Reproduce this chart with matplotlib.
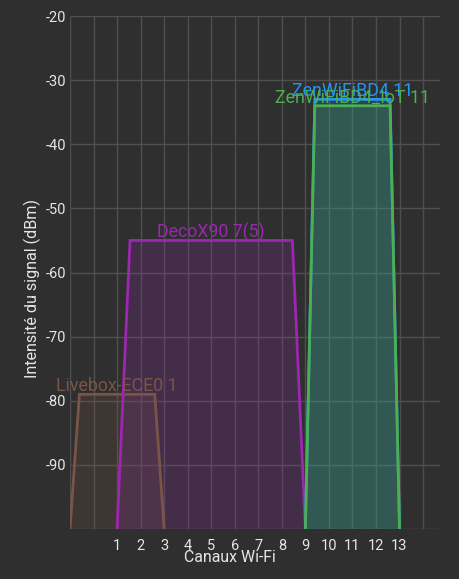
import numpy as np
import matplotlib
matplotlib.use('Agg')
import matplotlib.pyplot as plt

plt.rcParams['font.family'] = ['Roboto', 'DejaVu Sans']

# networks
names = ['Livebox-ECE0 1', 'DecoX90 7(5)', 'ZenWiFiBD4 11', 'ZenWiFiBD4_IoT 11']
centers = [1, 5, 11, 11]
half_widths = [2, 4, 2, 2]      # in channels (20 MHz -> 2, 40 MHz -> 4)
insets = [0.4, 0.55, 0.4, 0.4]   # slope of the trapezoid sides
levels = [-79, -55, -33, -34]
colors = ['#795548', '#9c27b0', '#2196f3', '#4caf50']
draw_order = [0, 1, 2, 3]

channel_ticks = list(range(1, 14))
grid_channels = list(range(-1, 15))
y_ticks = [-90, -80, -70, -60, -50, -40, -30, -20]

bg = '#2f2f2f'
fg = '#e6e6e6'
grid_col = '#4f4f4f'
floor = -100

fig = plt.figure(figsize=(4.6, 5.79), dpi=100, facecolor=bg)
ax = fig.add_axes([70 / 460, 50 / 579, 370 / 460, 513 / 579])
ax.set_facecolor(bg)

for i in draw_order:
    c = centers[i]
    hw = half_widths[i]
    xs = [c - hw, c - hw + insets[i], c + hw - insets[i], c + hw]
    ys = [floor, levels[i], levels[i], floor]
    ax.fill(xs, ys, color=colors[i], alpha=0.2, lw=0, zorder=2)
    ax.plot(xs, ys, color=colors[i], lw=2, zorder=3, solid_joinstyle='miter')
    ax.text(c, levels[i] + 0.45, names[i], color=colors[i], fontsize=12.8,
            ha='center', va='baseline', zorder=4)

ax.set_xlim(-1, 14.72)
ax.set_ylim(-100, -20)
ax.set_xticks(grid_channels)
ax.set_xticklabels([str(v) if v in channel_ticks else '' for v in grid_channels])
ax.set_yticks([-100] + y_ticks)
ax.set_yticklabels([''] + [str(v) for v in y_ticks])
ax.tick_params(length=0, colors=fg, labelsize=10.5)
ax.tick_params(axis='x', pad=7)
ax.tick_params(axis='y', pad=3)
ax.grid(True, color=grid_col, lw=1, zorder=0)
for s in ax.spines.values():
    s.set_visible(False)

fig.text(0.5, 22 / 579, 'Canaux Wi-Fi', color=fg, fontsize=11.4, ha='center', va='center')
fig.text(32 / 460, (579 - 288) / 579, 'Intensité du signal (dBm)', color=fg,
         fontsize=11.6, rotation=90, ha='center', va='center')

fig.savefig('out.png', dpi=100, facecolor=bg)
